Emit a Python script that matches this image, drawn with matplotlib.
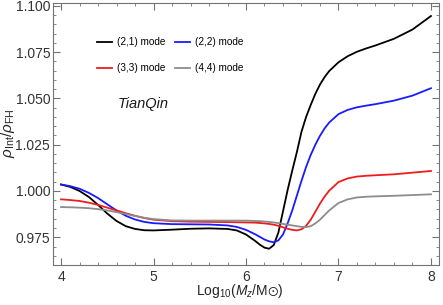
import matplotlib
matplotlib.use("Agg")
import matplotlib.pyplot as plt
from matplotlib.ticker import MultipleLocator

plt.rcParams["font.family"] = ["Liberation Sans", "DejaVu Sans"]
plt.rcParams["mathtext.fontset"] = "custom"
plt.rcParams["mathtext.rm"] = "Liberation Sans"
plt.rcParams["mathtext.it"] = "Liberation Sans:italic"
plt.rcParams["mathtext.fallback"] = "stixsans"

# log10 of redshifted mass
x = [4.0, 4.1, 4.2, 4.3, 4.4, 4.5, 4.6, 4.7, 4.8, 4.9, 5.0, 5.2, 5.4, 5.6, 5.8,
     5.9, 6.0, 6.1, 6.15, 6.2, 6.25, 6.3, 6.35, 6.4, 6.45, 6.5, 6.55, 6.6, 6.65,
     6.7, 6.75, 6.8, 6.85, 6.9, 7.0, 7.1, 7.2, 7.3, 7.4, 7.6, 7.8, 8.0]

mode21 = [1.0035, 1.0022, 1.0000, 0.9968, 0.9925, 0.9878, 0.9838, 0.9810, 0.9795,
          0.9788, 0.9787, 0.9791, 0.9796, 0.9798, 0.9795, 0.9787, 0.9765, 0.9730,
          0.9710, 0.9694, 0.9688, 0.9708, 0.9775, 0.9890, 1.0005, 1.0110, 1.0210,
          1.0320, 1.0400, 1.0465, 1.0525, 1.0575, 1.0615, 1.0648, 1.0695, 1.0728,
          1.0752, 1.0770, 1.0786, 1.0822, 1.0872, 1.0945]
mode22 = [1.0035, 1.0026, 1.0012, 0.9990, 0.9962, 0.9928, 0.9895, 0.9866, 0.9846,
          0.9833, 0.9826, 0.9821, 0.9820, 0.9819, 0.9814, 0.9806, 0.9790, 0.9766,
          0.9752, 0.9738, 0.9728, 0.9723, 0.9733, 0.9765, 0.9825, 0.9895, 0.9975,
          1.0055, 1.0130, 1.0195, 1.0250, 1.0298, 1.0338, 1.0370, 1.0415, 1.0438,
          1.0452, 1.0461, 1.0469, 1.0488, 1.0515, 1.0555]
mode33 = [0.9955, 0.9951, 0.9946, 0.9937, 0.9925, 0.9910, 0.9895, 0.9880, 0.9866,
          0.9854, 0.9845, 0.9837, 0.9834, 0.9833, 0.9832, 0.9831, 0.9830, 0.9829,
          0.9827, 0.9825, 0.9822, 0.9818, 0.9812, 0.9804, 0.9796, 0.9790, 0.9787,
          0.9793, 0.9812, 0.9845, 0.9888, 0.9932, 0.9970, 1.0002, 1.0048, 1.0068,
          1.0078, 1.0082, 1.0085, 1.0090, 1.0099, 1.0108]
mode44 = [0.9913, 0.9912, 0.9910, 0.9907, 0.9902, 0.9895, 0.9886, 0.9876, 0.9865,
          0.9855, 0.9848, 0.9841, 0.9840, 0.9840, 0.9840, 0.9840, 0.9840, 0.9838,
          0.9837, 0.9835, 0.9833, 0.9830, 0.9826, 0.9822, 0.9818, 0.9814, 0.9810,
          0.9806, 0.9805, 0.9810, 0.9825, 0.9845, 0.9870, 0.9895, 0.9935, 0.9955,
          0.9965, 0.9969, 0.9971, 0.9974, 0.9978, 0.9982]

labels = ["(2,1) mode", "(2,2) mode", "(3,3) mode", "(4,4) mode"]
colors = ["black", "#1a1aff", "#ee1c1c", "#8c8c8c"]

fig = plt.figure(figsize=(4.43, 3.05), dpi=100)
ax = fig.add_axes([0.1196, 0.131, 0.8714, 0.859])

lines = []
for y, lab, c in zip([mode21, mode22, mode33, mode44], labels, colors):
    l, = ax.plot(x, y, color=c, lw=1.3, label=lab)
    lines.append(l)

ax.set_xlim(3.913, 8.087)
ax.set_ylim(0.960, 1.1015)
ax.set_xticks([4, 5, 6, 7, 8])
ax.set_yticks([0.975, 1.000, 1.025, 1.050, 1.075, 1.100])
ax.set_yticklabels(["0.975", "1.000", "1.025", "1.050", "1.075", "1.100"])
ax.xaxis.set_minor_locator(MultipleLocator(0.2))
ax.yaxis.set_minor_locator(MultipleLocator(0.005))
ax.tick_params(which="both", direction="in", top=True, right=True,
               labelsize=10, labelcolor="0.2", color="0.45")
ax.tick_params(axis="y", pad=2)
ax.tick_params(axis="x", pad=3.5)
ax.tick_params(which="major", length=5, width=0.8)
ax.tick_params(which="minor", length=2.5, width=0.6)
for s in ax.spines.values():
    s.set_color("0.45")
    s.set_linewidth(0.8)

ax.set_xlabel(r"Log$_{10}$($M_z$/M$\odot$)", fontsize=10, color="0.15")
ax.xaxis.set_label_coords(0.4845, -0.064)
ax.set_ylabel(r"$\rho_{\rm Int}/\rho_{\rm FH}$", fontsize=11, color="0.15")
ax.yaxis.set_label_coords(-0.092, 0.502)

# legend order: (2,1) (2,2) on first row, (3,3) (4,4) on second
leg = ax.legend([lines[0], lines[2], lines[1], lines[3]],
                [labels[0], labels[2], labels[1], labels[3]],
                ncol=2, loc="upper left", bbox_to_anchor=(96.7 / 443, 1 - 37 / 305),
                bbox_transform=fig.transFigure, borderaxespad=0, borderpad=0,
                frameon=False, fontsize=7.2, handlelength=1.5,
                handletextpad=0.55, columnspacing=0.9, labelspacing=1.6)

fig.text(118 / 443, 1 - 108 / 305, "TianQin", fontsize=10.5, style="italic",
         color="0.1", va="baseline")

fig.savefig("out.png", dpi=100)
